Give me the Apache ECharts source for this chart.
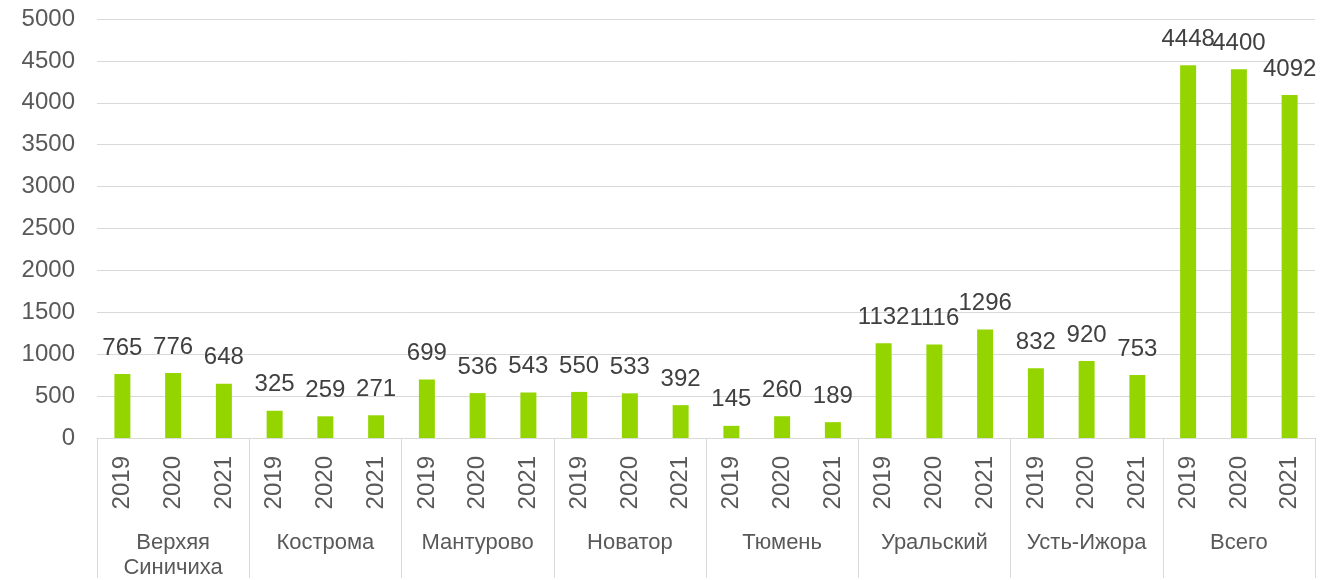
<!DOCTYPE html>
<html>
<head>
<meta charset="utf-8">
<script src="https://cdn.jsdelivr.net/npm/echarts@6/dist/echarts.min.js"></script>
<style>
  html, body { margin: 0; padding: 0; background: #fff; }
  #chart { width: 1325px; height: 580px; }
</style>
</head>
<body>
<div id="chart"></div>
<script>
// группы и годы
const groups = ['Верхяя\nСиничиха', 'Кострома', 'Мантурово', 'Новатор', 'Тюмень', 'Уральский', 'Усть-Ижора', 'Всего'];
const years = ['2019', '2020', '2021'];
// значения по группам, 2019-2021
const values = [
  765, 776, 648,
  325, 259, 271,
  699, 536, 543,
  550, 533, 392,
  145, 260, 189,
  1132, 1116, 1296,
  832, 920, 753,
  4448, 4400, 4092
];
const yTicks = { min: 0, max: 5000, interval: 500 };

// подписи годов для каждого столбца
const yearLabels = [];
groups.forEach(() => years.forEach(y => yearLabels.push(y)));

const font = 'Liberation Sans, Arial, sans-serif';
const chart = echarts.init(document.getElementById('chart'));

const option = {
  animation: false,
  grid: { left: 97, right: 10, top: 19, bottom: 140 },
  xAxis: [
    {
      type: 'category',
      data: yearLabels,
      position: 'bottom',
      axisLine: { show: false },
      axisTick: { show: false },
      axisLabel: {
        interval: 0,
        rotate: 90,
        margin: 18,
        color: '#595959',
        fontSize: 24,
        fontFamily: font
      }
    },
    {
      type: 'category',
      data: groups,
      position: 'bottom',
      axisLine: { show: true, lineStyle: { color: '#d9d9d9', width: 1 } },
      axisTick: { show: true, interval: 0, length: 140, lineStyle: { color: '#d9d9d9', width: 1 } },
      axisLabel: {
        interval: 0,
        margin: 92,
        color: '#595959',
        fontSize: 22,
        lineHeight: 25,
        fontFamily: font
      }
    }
  ],
  yAxis: {
    type: 'value',
    min: yTicks.min,
    max: yTicks.max,
    interval: yTicks.interval,
    axisLine: { show: false },
    axisTick: { show: false },
    splitLine: { lineStyle: { color: '#d9d9d9', width: 1 } },
    axisLabel: {
      margin: 22,
      color: '#595959',
      fontSize: 24,
      fontFamily: font,
      formatter: v => String(v)
    }
  },
  series: [{
    type: 'bar',
    xAxisIndex: 0,
    data: values,
    barWidth: 16,
    itemStyle: { color: '#94d500' },
    label: {
      show: true,
      position: 'top',
      distance: 14,
      color: '#404040',
      fontSize: 24,
      fontFamily: font
    }
  }]
};

chart.setOption(option);
window.addEventListener('resize', () => {
  chart.resize();
});
</script>
</body>
</html>
